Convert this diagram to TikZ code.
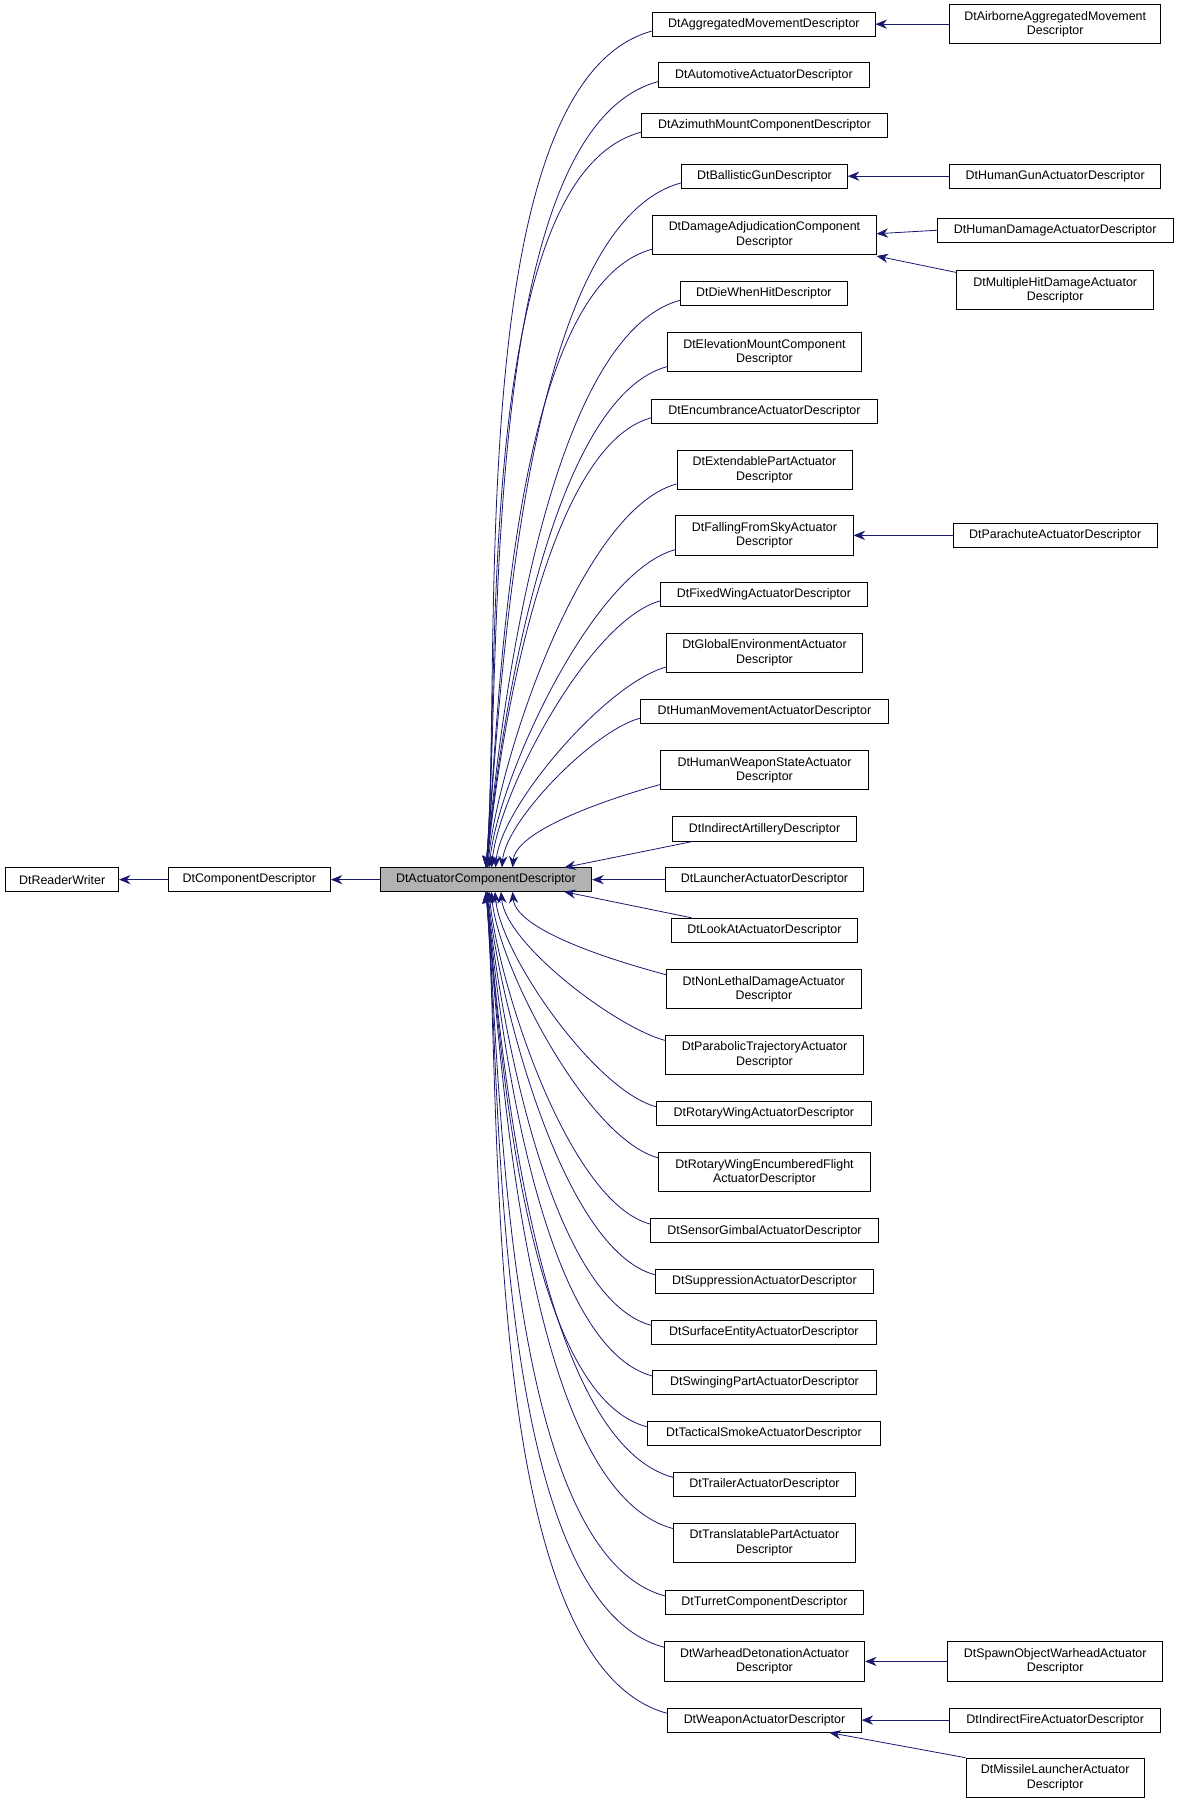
\documentclass[tikz,border=0pt]{standalone}
\usepackage{fontspec}
\setmainfont{Liberation Sans}
\usetikzlibrary{arrows.meta,calc}
\definecolor{edge}{RGB}{25,25,112}
\begin{document}
\begin{tikzpicture}[x=1pt,y=-1pt,
  box/.style={draw,inner sep=0pt,align=center,font=\fontsize{10.8}{12.5}\selectfont,line width=0.7pt},
  arr/.style={edge,line width=0.7pt,{Stealth[length=10pt,width=8pt]}-}]
\useasboundingbox (0,0) rectangle (1024,1566);
\node[box,minimum width=98,minimum height=21] (rw) at (54,764) {DtReaderWriter};
\node[box,minimum width=141,minimum height=21] (cd) at (216.5,764) {DtComponentDescriptor};
\node[box,minimum width=184,minimum height=21,fill=black!30] (acd) at (422,764) {DtActuatorComponentDescriptor};
\draw[arr] (rw.east) -- (cd.west);
\draw[arr] (cd.east) -- (acd.west);
\foreach \id/\cy/\xa/\xb/\h/\t in {
 1/21/567/760/21/DtAggregatedMovementDescriptor,
 2/65/572/755/21/DtAutomotiveActuatorDescriptor,
 3/109/557/771/21/DtAzimuthMountComponentDescriptor,
 4/153/592/736/21/DtBallisticGunDescriptor,
 5/204/567/761/34/DtDamageAdjudicationComponent\\Descriptor,
 6/255/591/736/21/DtDieWhenHitDescriptor,
 7/306/580/748/34/DtElevationMountComponent\\Descriptor,
 8/357/566/762/21/DtEncumbranceActuatorDescriptor,
 9/408/588/740/34/DtExtendablePartActuator\\Descriptor,
 10/465/587/741/34/DtFallingFromSkyActuator\\Descriptor,
 11/516/574/753/21/DtFixedWingActuatorDescriptor,
 12/567/579/749/34/DtGlobalEnvironmentActuator\\Descriptor,
 13/618/556/772/21/DtHumanMovementActuatorDescriptor,
 14/669/574/754/34/DtHumanWeaponStateActuator\\Descriptor,
 15/720/584/744/21/DtIndirectArtilleryDescriptor,
 16/764/578/750/21/DtLauncherActuatorDescriptor,
 17/808/583/745/21/DtLookAtActuatorDescriptor,
 18/859/579/748/34/DtNonLethalDamageActuator\\Descriptor,
 19/916/578/750/34/DtParabolicTrajectoryActuator\\Descriptor,
 20/967/570/757/21/DtRotaryWingActuatorDescriptor,
 21/1018/572/756/34/DtRotaryWingEncumberedFlight\\ActuatorDescriptor,
 22/1069/565/763/21/DtSensorGimbalActuatorDescriptor,
 23/1113/569/759/21/DtSuppressionActuatorDescriptor,
 24/1157/566/761/21/DtSurfaceEntityActuatorDescriptor,
 25/1201/567/761/21/DtSwingingPartActuatorDescriptor,
 26/1245/562/765/21/DtTacticalSmokeActuatorDescriptor,
 27/1289/585/743/21/DtTrailerActuatorDescriptor,
 28/1340/585/743/34/DtTranslatablePartActuator\\Descriptor,
 29/1392/578/750/21/DtTurretComponentDescriptor,
 30/1443/577/751/34/DtWarheadDetonationActuator\\Descriptor,
 31/1494/580/748/21/DtWeaponActuatorDescriptor}
{
 \pgfmathsetmacro\cx{(\xa+\xb)/2}
 \pgfmathsetmacro\w{\xb-\xa}
 \node[box,minimum width=\w,minimum height=\h] (m\id) at (\cx,\cy) {\t};
 \pgfmathsetmacro\dy{\cy-764}
 \pgfmathsetmacro\px{422+60*exp(-abs(\dy)/100)}
 \ifnum\id=16
   \draw[arr] (acd.east) -- (m\id.west);
 \else\ifnum\id=15
   \draw[arr] (490,753.5) -- ($(m\id.south west)+(18,0)$);
 \else\ifnum\id=17
   \draw[arr] (490,774.5) -- ($(m\id.north west)+(18,0)$);
 \else
   \pgfmathparse{\dy<0?1:0}
   \ifnum\pgfmathresult=1
     \coordinate (p\id) at (\px,753.5);
     \draw[arr] (p\id) to[out=85,in=195,looseness=0.6] ($(m\id.south west)+(0,-5)$);
   \else
     \coordinate (p\id) at (\px,774.5);
     \draw[arr] (p\id) to[out=-85,in=165,looseness=0.6] ($(m\id.north west)+(0,5)$);
   \fi
 \fi\fi\fi
}
\node[box,minimum width=183,minimum height=34] (r1) at (916.5,21) {DtAirborneAggregatedMovement\\Descriptor};
\node[box,minimum width=183,minimum height=21] (r2) at (916.5,153) {DtHumanGunActuatorDescriptor};
\node[box,minimum width=205,minimum height=21] (r3) at (916.5,200) {DtHumanDamageActuatorDescriptor};
\node[box,minimum width=171,minimum height=34] (r4) at (916.5,252) {DtMultipleHitDamageActuator\\Descriptor};
\node[box,minimum width=177,minimum height=21] (r5) at (916.5,465) {DtParachuteActuatorDescriptor};
\node[box,minimum width=187,minimum height=34] (r6) at (916.5,1443) {DtSpawnObjectWarheadActuator\\Descriptor};
\node[box,minimum width=183,minimum height=21] (r7) at (916.5,1494) {DtIndirectFireActuatorDescriptor};
\node[box,minimum width=155,minimum height=34] (r8) at (916.5,1544) {DtMissileLauncherActuator\\Descriptor};
\draw[arr] (m1.east) -- (r1.west);
\draw[arr] (m4.east) -- (r2.west);
\draw[arr] ($(m5.east)+(0,-1)$) -- (r3.west);
\draw[arr] ($(m5.south east)+(0,1)$) -- ($(r4.north west)+(0,2)$);
\draw[arr] (m10.east) -- (r5.west);
\draw[arr] (m30.east) -- (r6.west);
\draw[arr] (m31.east) -- (r7.west);
\draw[arr] ($(m31.south east)+(-28,0)$) -- ($(r8.north west)+(0,0)$);
\end{tikzpicture}
\end{document}
